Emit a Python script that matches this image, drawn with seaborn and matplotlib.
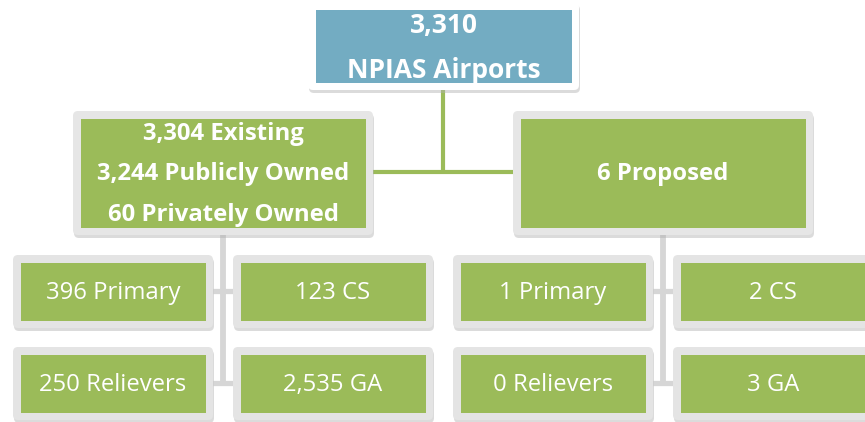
import matplotlib.pyplot as plt
import seaborn as sns
from matplotlib.patches import FancyBboxPatch

# chart content
total_count = "3,310"
total_label = "NPIAS Airports"
existing_lines = ["3,304 Existing", "3,244 Publicly Owned", "60 Privately Owned"]
proposed_lines = ["6 Proposed"]
categories = ["Primary", "CS", "Relievers", "GA"]
existing_counts = [396, 123, 250, 2535]
proposed_counts = [1, 2, 0, 3]

sns.set_theme(style="white")
plt.rcParams['font.family'] = ['Open Sans', 'DejaVu Sans']

BLUE = "#73acc2"
GREEN = "#9bbb59"
GREY_LINE = "#d6d6d6"

fig = plt.figure(figsize=(8.65, 4.22), dpi=100)
ax = fig.add_axes([0, 0, 1, 1])
ax.set_xlim(0, 865)
ax.set_ylim(422, 0)
ax.axis("off")


def node(x0, y0, x1, y1, fill, frame="#e6e6e6", pad=7.5):
    # shadow, frame, inner box (pixel coords, y down)
    sh = FancyBboxPatch((x0 + 1, y0 + 3), x1 - x0, y1 - y0,
                        boxstyle="round,pad=0,rounding_size=5",
                        fc="#b0b0b0", ec="none", alpha=0.45, zorder=2)
    fr = FancyBboxPatch((x0, y0), x1 - x0, y1 - y0,
                        boxstyle="round,pad=0,rounding_size=5",
                        fc=frame, ec="none", zorder=3)
    inner = plt.Rectangle((x0 + pad, y0 + pad), x1 - x0 - 2 * pad, y1 - y0 - 2 * pad,
                          fc=fill, ec="none", zorder=4)
    ax.add_patch(sh)
    ax.add_patch(fr)
    ax.add_patch(inner)
    return (x0 + x1) / 2


# green connectors
ax.plot([443, 443], [88, 172], color=GREEN, lw=3, zorder=1, solid_capstyle="butt")
ax.plot([372, 514], [172, 172], color=GREEN, lw=3, zorder=1, solid_capstyle="butt")

# grey connectors under each group
for cx, gx0, gx1 in [(223, 213, 233), (663, 653, 673)]:
    ax.plot([cx, cx], [234, 385], color=GREY_LINE, lw=4.2, zorder=1, solid_capstyle="butt")
    for yy in [291, 383]:
        ax.plot([gx0, gx1], [yy, yy], color=GREY_LINE, lw=3.8, zorder=1, solid_capstyle="butt")

# top node
cx = node(308, 2, 579, 90, BLUE, frame="#ffffff")
ax.text(cx, 33, total_count, ha="center", va="baseline", color="white",
        fontsize=19, fontweight="bold", zorder=5)
ax.text(cx, 78, total_label, ha="center", va="baseline", color="white",
        fontsize=19, fontweight="bold", zorder=5)

# middle nodes
cx = node(73, 111, 373, 235, GREEN)
for i, line in enumerate(existing_lines):
    ax.text(cx, 140 + 40.5 * i, line, ha="center", va="baseline", color="white",
            fontsize=17.2, fontweight="bold", zorder=5)

cx = node(513, 111, 813, 235, GREEN)
ax.text(cx, 180, proposed_lines[0], ha="center", va="baseline", color="white",
        fontsize=17.2, fontweight="bold", zorder=5)

# bottom nodes
rows = [(255, 328, 299), (347, 420, 391)]
cols_left = [(13, 213), (233, 433)]
cols_right = [(453, 653), (673, 873)]
for counts, cols in [(existing_counts, cols_left), (proposed_counts, cols_right)]:
    for k, (n, cat) in enumerate(zip(counts, categories)):
        r, c = divmod(k, 2)
        y0, y1, base = rows[r]
        x0, x1 = cols[c]
        cx = node(x0, y0, x1, y1, GREEN, frame="#e4e4e4")
        ax.text(cx, base, f"{n:,} {cat}", ha="center", va="baseline", color="white",
                fontsize=17.2, zorder=5)

fig.savefig("out.png", dpi=100)
